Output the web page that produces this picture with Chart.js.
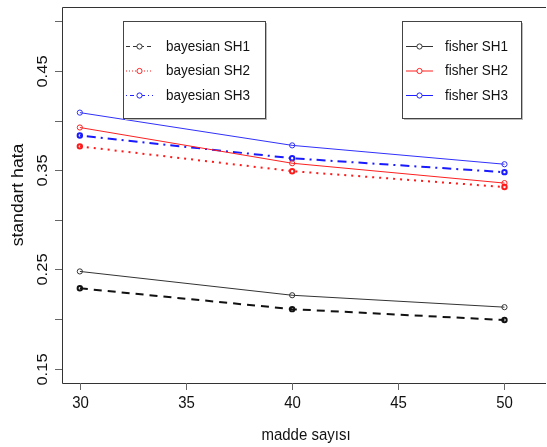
<!DOCTYPE html>
<html>
<head>
<meta charset="utf-8">
<script src="https://cdn.jsdelivr.net/npm/chart.js@4/dist/chart.umd.min.js"></script>
<style>
  body { margin: 0; background: #fff; }
</style>
</head>
<body>
<canvas id="myChart" width="547" height="447"></canvas>
<script>
// x values (madde sayisi)
let items = [30, 40, 50];

// standart hata values
let fisherSH1 = [0.248, 0.224, 0.212];
let fisherSH2 = [0.393, 0.357, 0.337];
let fisherSH3 = [0.408, 0.375, 0.356];
let bayesSH1 = [0.231, 0.210, 0.199];
let bayesSH2 = [0.374, 0.349, 0.333];
let bayesSH3 = [0.385, 0.362, 0.348];

let xTicks = [30, 35, 40, 45, 50];
let yTicks = [0.15, 0.20, 0.25, 0.30, 0.35, 0.40, 0.45, 0.50];
let yLabels = ['0.15', '', '0.25', '', '0.35', '', '0.45', ''];

const FONT = '"Liberation Sans", Arial, sans-serif';

function pts(vals) {
    return items.map((x, i) => ({x: x, y: vals[i]}));
}

function fisher(label, vals, color) {
    return {
        label: label, data: pts(vals),
        borderColor: color, borderWidth: 1,
        pointRadius: 2.6, pointBorderWidth: 1,
        pointBorderColor: color, pointBackgroundColor: 'rgba(0,0,0,0)',
        tension: 0, fill: false
    };
}

function bayes(label, vals, color, dash) {
    return {
        label: label, data: pts(vals),
        borderColor: color, borderWidth: 2, borderDash: dash,
        pointRadius: 2.2, pointBorderWidth: 2,
        pointBorderColor: color, pointBackgroundColor: 'rgba(0,0,0,0)',
        tension: 0, fill: false
    };
}

// text drawn a little taller than wide, like the reference
function text(ctx, str, x, y, rot) {
    ctx.save();
    ctx.translate(x, y);
    if (rot) {
        ctx.rotate(-Math.PI / 2);
        ctx.scale(1.1, 1);
    } else {
        ctx.scale(1, 1.1);
    }
    ctx.textAlign = 'center';
    ctx.textBaseline = 'middle';
    ctx.fillText(str, 0, 0);
    ctx.restore();
}

function legendBox(ctx, x0, y0, x1, y1, entries, lineX0, lineX1, textX) {
    ctx.save();
    ctx.fillStyle = '#bbb';
    ctx.fillRect(x0 + 2, y0 + 2, x1 - x0, y1 - y0);
    ctx.fillStyle = '#fff';
    ctx.fillRect(x0, y0, x1 - x0, y1 - y0);
    ctx.strokeStyle = '#444';
    ctx.lineWidth = 1;
    ctx.strokeRect(x0 + 0.5, y0 + 0.5, x1 - x0, y1 - y0);
    entries.forEach((e, i) => {
        let y = 46.5 + i * 24.5;
        ctx.strokeStyle = e.color;
        ctx.lineWidth = 1;
        ctx.setLineDash(e.dash);
        ctx.beginPath();
        ctx.moveTo(lineX0, y);
        ctx.lineTo(lineX1, y);
        ctx.stroke();
        ctx.setLineDash([]);
        ctx.beginPath();
        ctx.arc((lineX0 + lineX1) / 2, y, 2.6, 0, Math.PI * 2);
        ctx.fillStyle = '#fff';
        ctx.fill();
        ctx.stroke();
        ctx.fillStyle = '#111';
        ctx.font = '13.5px ' + FONT;
        ctx.save();
        ctx.translate(textX, y);
        ctx.scale(1, 1.15);
        ctx.textBaseline = 'middle';
        ctx.textAlign = 'left';
        ctx.fillText(e.label, 0, 0);
        ctx.restore();
    });
    ctx.restore();
}

let axesPlugin = {
    id: 'rAxes',
    afterDraw(chart) {
        let ctx = chart.ctx;
        let xs = chart.scales.x, ys = chart.scales.y;
        let a = chart.chartArea;
        ctx.save();
        ctx.strokeStyle = '#333';
        ctx.lineWidth = 1;
        // frame (right side falls outside the picture)
        ctx.beginPath();
        ctx.moveTo(a.right + 5, a.top + 0.5);
        ctx.lineTo(a.left + 0.5, a.top + 0.5);
        ctx.lineTo(a.left + 0.5, a.bottom + 0.5);
        ctx.lineTo(a.right + 5, a.bottom + 0.5);
        ctx.stroke();

        ctx.strokeStyle = '#666';
        ctx.fillStyle = '#111';
        ctx.font = '15px ' + FONT;
        xTicks.forEach(v => {
            let px = Math.round(xs.getPixelForValue(v)) + 0.5;
            ctx.beginPath();
            ctx.moveTo(px, a.bottom);
            ctx.lineTo(px, a.bottom + 7);
            ctx.stroke();
            text(ctx, String(v), px, 403.5, false);
        });
        yTicks.forEach((v, i) => {
            let py = Math.round(ys.getPixelForValue(v)) + 0.5;
            ctx.beginPath();
            ctx.moveTo(a.left - 7, py);
            ctx.lineTo(a.left, py);
            ctx.stroke();
            if (yLabels[i]) text(ctx, yLabels[i], 42.5, py, true);
        });
        ctx.font = '15px ' + FONT;
        text(ctx, 'madde sayısı', 306, 435, false);
        ctx.font = '16px ' + FONT;
        text(ctx, 'standart hata', 19, 195, true);
        ctx.restore();

        legendBox(ctx, 123, 21, 265, 118, [
            {label: 'bayesian SH1', color: '#333', dash: [4, 3]},
            {label: 'bayesian SH2', color: '#ff2020', dash: [1, 2]},
            {label: 'bayesian SH3', color: '#2020ff', dash: [1, 3, 4, 3]}
        ], 126, 153, 166);
        legendBox(ctx, 402, 21, 521, 118, [
            {label: 'fisher SH1', color: '#333', dash: []},
            {label: 'fisher SH2', color: '#ff2020', dash: []},
            {label: 'fisher SH3', color: '#2020ff', dash: []}
        ], 406, 433, 445);
    }
};

let config = {
    type: 'line',
    data: {
        datasets: [
            fisher('fisher SH1', fisherSH1, '#333333'),
            fisher('fisher SH2', fisherSH2, '#ff2020'),
            fisher('fisher SH3', fisherSH3, '#3030ff'),
            bayes('bayesian SH1', bayesSH1, '#111111', [8, 6]),
            bayes('bayesian SH2', bayesSH2, '#ff1a1a', [2, 5]),
            bayes('bayesian SH3', bayesSH3, '#1a1aff', [2, 5, 9, 5])
        ]
    },
    options: {
        responsive: false,
        animation: false,
        devicePixelRatio: 1,
        layout: {padding: {left: 62, top: 7, right: 0, bottom: 64}},
        plugins: {legend: {display: false}, tooltip: {enabled: false}},
        scales: {
            x: {type: 'linear', min: 29.16, max: 51.72, display: false},
            y: {type: 'linear', min: 0.1356, max: 0.5144, display: false}
        }
    },
    plugins: [axesPlugin]
};

let lineChart = new Chart(document.getElementById('myChart'), config);
</script>
</body>
</html>
